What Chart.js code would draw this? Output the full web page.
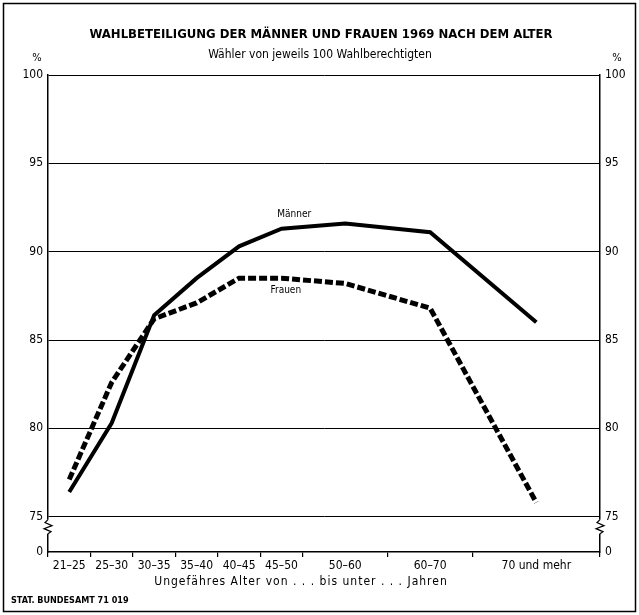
<!DOCTYPE html>
<html>
<head>
<meta charset="utf-8">
<script src="https://cdn.jsdelivr.net/npm/chart.js@4"></script>
<style>
  html, body { margin: 0; padding: 0; background: #fff; }
  #wrap { width: 639px; height: 615px; }
</style>
</head>
<body>
<div id="wrap"><canvas id="myLineChart"></canvas></div>
<script>
// age groups and their width on the x axis (in 5-year units)
const ageGroups = ["21–25", "25–30", "30–35", "35–40", "40–45", "45–50", "50–60", "60–70", "70 und mehr"];
const groupSpan = [1, 1, 1, 1, 1, 1, 2, 2, 3];

// voters per 100 eligible
const maenner = [76.4, 80.3, 86.4, 88.5, 90.3, 91.3, 91.6, 91.1, 86.0];
const frauen = [77.1, 82.6, 86.2, 87.1, 88.5, 88.5, 88.2, 86.8, 75.8];

const yTicks = [75, 80, 85, 90, 95, 100];
const yBreak = 73; // bottom of the broken axis, labelled "0"

const FONT = "'Liberation Sans Narrow', 'DejaVu Sans Condensed', 'Roboto Condensed', 'Liberation Sans', sans-serif";

// boundaries and midpoints of the groups
var bounds = [0];
groupSpan.forEach((s, i) => bounds.push(bounds[i] + s));
var mids = groupSpan.map((s, i) => bounds[i] + s / 2);
var xMax = bounds[bounds.length - 1];

function pts(arr) {
  return arr.map((v, i) => ({ x: mids[i], y: v }));
}

const frame = {
  id: "frame",
  afterDraw(chart) {
    const { ctx, chartArea: { left, right, top, bottom } } = chart;
    const ys = chart.scales.y;
    ctx.save();
    ctx.strokeStyle = "#000";
    ctx.fillStyle = "#000";

    // outer frame
    ctx.lineWidth = 1.5;
    ctx.strokeRect(3.5, 3.5, 632, 608);

    // axis breaks
    const yTop = ys.getPixelForValue(75) + 3;
    [left, right].forEach((x) => {
      ctx.fillStyle = "#fff";
      ctx.fillRect(x - 2, yTop, 4, 14);
      ctx.fillStyle = "#000";
      ctx.beginPath();
      ctx.lineWidth = 1.2;
      ctx.moveTo(x, yTop);
      ctx.lineTo(x - 3, yTop + 3);
      ctx.lineTo(x + 4, yTop + 6);
      ctx.lineTo(x - 4, yTop + 9);
      ctx.lineTo(x + 3, yTop + 12);
      ctx.lineTo(x, yTop + 14);
      ctx.stroke();
    });

    ctx.textAlign = "center";
    ctx.textBaseline = "middle";
    ctx.font = "bold 13px " + FONT;
    ctx.fillText("WAHLBETEILIGUNG DER MÄNNER UND FRAUEN 1969 NACH DEM ALTER", 321, 35);
    ctx.font = "12px " + FONT;
    ctx.fillText("Wähler von jeweils 100 Wahlberechtigten", 320, 55);
    ctx.font = "11px " + FONT;
    ctx.fillText("%", 37, 58);
    ctx.fillText("%", 617, 58);

    // line labels
    const xs = chart.scales.x;
    ctx.font = "10px " + FONT;
    ctx.fillText("Männer", xs.getPixelForValue(5.8), ys.getPixelForValue(92.1));
    ctx.fillText("Frauen", xs.getPixelForValue(5.6), ys.getPixelForValue(87.8));

    // x axis title
    ctx.font = "12px " + FONT;
    ctx.letterSpacing = "1px";
    ctx.fillText("Ungefähres Alter von . . . bis unter . . . Jahren", 301, 582);
    ctx.letterSpacing = "0px";

    ctx.textAlign = "left";
    ctx.font = "bold 9px " + FONT;
    ctx.fillText("STAT. BUNDESAMT 71 019", 11, 601);
    ctx.restore();
  },
};

var ctx = document.getElementById("myLineChart").getContext("2d");
var myLineChart = new Chart(ctx, {
  type: "line",
  data: {
    datasets: [
      {
        label: "Männer",
        data: pts(maenner),
        borderColor: "#000",
        borderWidth: 4,
        pointRadius: 0,
        fill: false,
        tension: 0,
      },
      {
        label: "Frauen",
        data: pts(frauen),
        borderColor: "#000",
        borderWidth: 5,
        borderDash: [8, 3],
        pointRadius: 0,
        fill: false,
        tension: 0,
      },
    ],
  },
  options: {
    responsive: true,
    maintainAspectRatio: false,
    animation: false,
    layout: { padding: { top: 75, left: 0, right: 0, bottom: 0 } },
    plugins: {
      legend: { display: false },
      title: { display: false },
      tooltip: { enabled: false },
    },
    scales: {
      x: {
        type: "linear",
        min: 0,
        max: xMax,
        afterBuildTicks: (scale) => {
          var all = bounds.concat(mids).sort((a, b) => a - b);
          scale.ticks = all.map((v) => ({ value: v }));
        },
        afterFit: (scale) => { scale.height = 63; },
        ticks: {
          autoSkip: false,
          maxRotation: 0,
          padding: 2,
          color: "#000",
          font: { family: FONT, size: 12 },
          callback: (v) => {
            var i = mids.indexOf(v);
            return i >= 0 ? ageGroups[i] : "";
          },
        },
        grid: {
          drawOnChartArea: false,
          tickLength: 5,
          lineWidth: 1.2,
          color: (c) => (c.tick && bounds.indexOf(c.tick.value) >= 0 ? "#000" : "rgba(0,0,0,0)"),
        },
        border: { color: "#000", width: 1.5 },
      },
      y: {
        type: "linear",
        position: "left",
        min: yBreak,
        max: 100,
        afterBuildTicks: (scale) => {
          scale.ticks = [yBreak].concat(yTicks).map((v) => ({ value: v }));
        },
        afterFit: (scale) => { scale.width = 48; },
        ticks: {
          padding: 5,
          color: "#000",
          font: { family: FONT, size: 12 },
          callback: (v) => (v === yBreak ? "0" : v),
        },
        grid: {
          drawTicks: false,
          lineWidth: 1,
          color: (c) => (c.tick && c.tick.value === yBreak ? "rgba(0,0,0,0)" : "#000"),
        },
        border: { color: "#000", width: 1.5 },
      },
      y2: {
        type: "linear",
        position: "right",
        min: yBreak,
        max: 100,
        afterBuildTicks: (scale) => {
          scale.ticks = [yBreak].concat(yTicks).map((v) => ({ value: v }));
        },
        afterFit: (scale) => { scale.width = 39; },
        ticks: {
          padding: 5,
          color: "#000",
          font: { family: FONT, size: 12 },
          callback: (v) => (v === yBreak ? "0" : v),
        },
        grid: { drawOnChartArea: false, drawTicks: false },
        border: { color: "#000", width: 1.5 },
      },
    },
  },
  plugins: [frame],
});
</script>
</body>
</html>
